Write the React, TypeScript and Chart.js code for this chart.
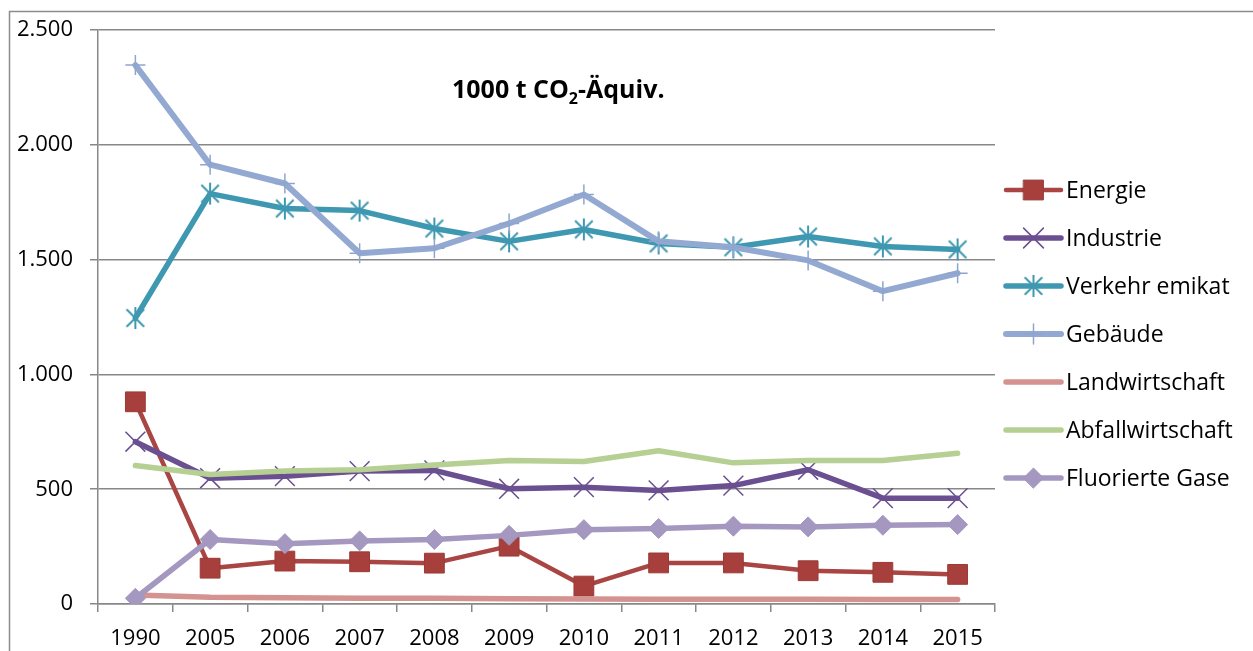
import React, { useEffect, useRef } from 'react';
import { Chart, registerables } from 'chart.js';
import { drawPoint } from 'chart.js/helpers';

Chart.register(...registerables);

const years = ['1990', '2005', '2006', '2007', '2008', '2009', '2010', '2011', '2012', '2013', '2014', '2015'];
const energie = [881, 156, 187, 184, 178, 252, 78, 179, 179, 145, 138, 129];
const industrie = [707, 548, 557, 579, 582, 502, 509, 495, 516, 585, 461, 461];
const verkehr = [1246, 1788, 1723, 1714, 1636, 1580, 1632, 1571, 1554, 1601, 1558, 1545];
const gebaeude = [2348, 1914, 1832, 1528, 1550, 1658, 1784, 1580, 1554, 1497, 1363, 1441];
const landwirtschaft = [39, 29, 27, 25, 25, 23, 22, 21, 21, 21, 20, 20];
const abfallwirtschaft = [603, 564, 579, 585, 606, 625, 621, 668, 615, 625, 625, 657];
const fluorierteGase = [25, 281, 263, 275, 281, 299, 324, 329, 339, 336, 343, 346];

const seriesNames = ['Energie', 'Industrie', 'Verkehr emikat', 'Gebäude', 'Landwirtschaft', 'Abfallwirtschaft', 'Fluorierte Gase'];
const yMax = 2500;
const yStep = 500;
const titleMain = '1000 t CO';
const titleSub = '2';
const titleRest = '-Äquiv.';

const FONT = '"Open Sans", "DejaVu Sans", sans-serif';

function formatDE(v: number): string {
  const s = Math.round(v).toString();
  return s.replace(/\B(?=(\d{3})+(?!\d))/g, '.');
}

function makeAsterisk(color: string, size: number, lw: number): HTMLCanvasElement {
  const c = document.createElement('canvas');
  c.width = size;
  c.height = size;
  const ctx = c.getContext('2d')!;
  ctx.strokeStyle = color;
  ctx.lineWidth = lw;
  const m = size / 2;
  const r = size / 2 - 1;
  const d = r * 0.8;
  ctx.beginPath();
  ctx.moveTo(m - d, m - d);
  ctx.lineTo(m + d, m + d);
  ctx.moveTo(m + d, m - d);
  ctx.lineTo(m - d, m + d);
  ctx.moveTo(m, m - r);
  ctx.lineTo(m, m + r);
  ctx.stroke();
  return c;
}

const decorPlugin = {
  id: 'decor',
  beforeDraw(chart: any) {
    const ctx = chart.ctx;
    ctx.save();
    ctx.fillStyle = '#ffffff';
    ctx.fillRect(0, 0, chart.width, chart.height);
    ctx.strokeStyle = '#8c8c8c';
    ctx.lineWidth = 1.5;
    ctx.beginPath();
    ctx.moveTo(9.5, chart.height);
    ctx.lineTo(9.5, 11.5);
    ctx.lineTo(chart.width, 11.5);
    ctx.stroke();
    ctx.restore();
  },
  afterDraw(chart: any) {
    const ctx = chart.ctx;
    ctx.save();
    // title
    ctx.fillStyle = '#000';
    ctx.textBaseline = 'alphabetic';
    ctx.textAlign = 'left';
    let x = 452;
    const base = 98;
    ctx.font = `bold 25px ${FONT}`;
    ctx.fillText(titleMain, x, base);
    x += ctx.measureText(titleMain).width;
    ctx.font = `bold 16px ${FONT}`;
    ctx.fillText(titleSub, x, base + 6);
    x += ctx.measureText(titleSub).width;
    ctx.font = `bold 25px ${FONT}`;
    ctx.fillText(titleRest, x, base);

    // legend
    const lx0 = 1006;
    const lx1 = 1061;
    const y0 = 190;
    const dy = 48;
    chart.data.datasets.forEach((ds: any, i: number) => {
      const y = y0 + i * dy;
      ctx.strokeStyle = ds.borderColor;
      ctx.lineWidth = ds.borderWidth;
      ctx.lineCap = 'round';
      ctx.beginPath();
      ctx.moveTo(lx0, y);
      ctx.lineTo(lx1, y);
      ctx.stroke();
      if (ds.pointRadius > 0) {
        ctx.fillStyle = ds.pointBackgroundColor;
        ctx.strokeStyle = ds.pointBorderColor;
        ctx.lineWidth = ds.pointBorderWidth;
        drawPoint(ctx, {
          pointStyle: ds.pointStyle,
          rotation: 0,
          radius: ds.pointRadius,
          borderWidth: ds.pointBorderWidth,
        } as any, (lx0 + lx1) / 2, y);
      }
      ctx.fillStyle = '#000';
      ctx.font = `23px ${FONT}`;
      ctx.textBaseline = 'middle';
      ctx.fillText(ds.label, 1066, y + 1);
    });
    ctx.restore();
  },
};

export default function App() {
  const ref = useRef<HTMLCanvasElement | null>(null);

  useEffect(() => {
    if (!ref.current) return;
    const star = makeAsterisk('#3F98B1', 24, 2);
    const mk = (i: number, data: number[], color: string, width: number, extra: any) => ({
      label: seriesNames[i],
      data,
      borderColor: color,
      borderWidth: width,
      borderJoinStyle: 'round',
      borderCapStyle: 'round',
      order: 10 - i,
      tension: 0,
      fill: false,
      ...extra,
    });
    const chart = new Chart(ref.current, {
      type: 'line',
      data: {
        labels: years,
        datasets: [
          mk(0, energie, '#A94542', 4.5, {
            pointStyle: 'rect', pointRadius: 14, pointBackgroundColor: '#A7403D', pointBorderColor: '#9A3A37', pointBorderWidth: 1,
          }),
          mk(1, industrie, '#6A4F91', 5.5, {
            pointStyle: 'crossRot', pointRadius: 14, pointBackgroundColor: '#6A4F91', pointBorderColor: '#6A4F91', pointBorderWidth: 1.5,
          }),
          mk(2, verkehr, '#3F98B1', 5.5, {
            pointStyle: star, pointRadius: 12, pointBackgroundColor: '#3F98B1', pointBorderColor: '#3F98B1', pointBorderWidth: 0,
          }),
          mk(3, gebaeude, '#93A9D1', 6, {
            pointStyle: 'cross', pointRadius: 10, pointBackgroundColor: '#8EA5CF', pointBorderColor: '#8EA5CF', pointBorderWidth: 1.5,
          }),
          mk(4, landwirtschaft, '#D49290', 5.5, { pointRadius: 0 }),
          mk(5, abfallwirtschaft, '#B6CF92', 5.5, { pointRadius: 0 }),
          mk(6, fluorierteGase, '#A497C0', 5.5, {
            pointStyle: 'rectRot', pointRadius: 10, pointBackgroundColor: '#A497C0', pointBorderColor: '#A497C0', pointBorderWidth: 1,
          }),
        ] as any,
      },
      options: {
        responsive: false,
        animation: false,
        devicePixelRatio: 1,
        layout: { padding: { left: 0, top: 28, right: 258, bottom: 0 } },
        plugins: {
          legend: { display: false },
          title: { display: false },
          tooltip: { enabled: false },
        },
        scales: {
          x: {
            type: 'category',
            offset: true,
            afterFit: (s: any) => { s.height = 47; },
            grid: {
              offset: true,
              drawOnChartArea: false,
              drawTicks: true,
              tickLength: 8,
              color: '#888888',
              lineWidth: 1.5,
            },
            border: { display: true, color: '#888888', width: 1.5 },
            ticks: {
              color: '#000',
              font: { family: FONT, size: 22 },
              padding: 14,
              maxRotation: 0,
              autoSkip: false,
            },
          },
          y: {
            min: 0,
            max: yMax,
            afterFit: (s: any) => { s.width = 98; },
            grid: {
              color: '#888888',
              lineWidth: 1.5,
              drawTicks: true,
              tickLength: 8,
            },
            border: { display: true, color: '#888888', width: 1.5 },
            ticks: {
              stepSize: yStep,
              color: '#000',
              font: { family: FONT, size: 22 },
              padding: 17,
              callback: (v: any) => formatDE(Number(v)),
            },
          },
        },
      } as any,
      plugins: [decorPlugin],
    });
    return () => chart.destroy();
  }, []);

  return (
    <div style={{ position: 'fixed', left: 0, top: 0, width: 1253, height: 651, background: '#fff' }}>
      <canvas ref={ref} width={1253} height={651} style={{ width: 1253, height: 651, display: 'block' }} />
    </div>
  );
}
